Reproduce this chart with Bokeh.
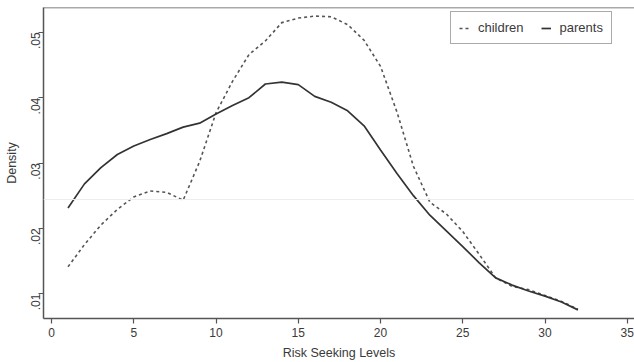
from bokeh.plotting import figure
from bokeh.models import FixedTicker, Span, Range1d
from bokeh.embed import file_html
from bokeh.resources import INLINE
import math

# Data
levels = list(range(1, 33))
parents = [0.0231, 0.0268, 0.0293, 0.0313, 0.0326, 0.0336, 0.0345, 0.0355,
           0.0361, 0.0375, 0.0388, 0.0400, 0.0421, 0.0424, 0.0420, 0.0402,
           0.0393, 0.0380, 0.0357, 0.0320, 0.0284, 0.0250, 0.0220, 0.0196,
           0.0172, 0.0147, 0.0124, 0.0113, 0.0104, 0.0096, 0.0087, 0.0075]
children = [0.0141, 0.0175, 0.0205, 0.0229, 0.0248, 0.0257, 0.0255, 0.0243,
            0.0302, 0.0377, 0.0425, 0.0466, 0.0487, 0.0515, 0.0522, 0.0525,
            0.0524, 0.0512, 0.0488, 0.0448, 0.0378, 0.0295, 0.0240, 0.0222,
            0.0195, 0.0160, 0.0124, 0.0111, 0.0106, 0.0097, 0.0088, 0.0076]
x_ticks = [0, 5, 10, 15, 20, 25, 30, 35]
y_ticks = [0.01, 0.02, 0.03, 0.04, 0.05]
y_tick_labels = [".01", ".02", ".03", ".04", ".05"]
faint_line_level = 0.0244

FONT = "Liberation Sans"
TXT = "#3a3a3a"
AX = "#555555"

p = figure(width=634, height=362, output_backend="svg", toolbar_location=None,
           x_range=Range1d(-0.49, 35.44), y_range=Range1d(0.00618, 0.05382),
           min_border_left=43, min_border_bottom=43, min_border_top=7, min_border_right=0,
           x_axis_label="Risk Seeking Levels", y_axis_label="Density")
p.outline_line_color = None
p.grid.visible = False
p.background_fill_color = "white"
p.border_fill_color = "white"

p.add_layout(Span(location=faint_line_level, dimension="width",
                  line_color="#ededed", line_width=1))
p.add_layout(Span(location=0.05382, dimension="width",
                  line_color=AX, line_width=1.5))

p.line(levels, children, line_color="#555555", line_width=1.6, line_dash="3 3",
       legend_label="children")
p.line(levels, parents, line_color="#333333", line_width=1.7,
       legend_label="parents")

for ax in (p.xaxis[0], p.yaxis[0]):
    ax.axis_line_color = AX
    ax.axis_line_width = 1.5
    ax.major_tick_line_color = AX
    ax.major_tick_line_width = 1.2
    ax.major_tick_out = 5
    ax.major_tick_in = 0
    ax.minor_tick_line_color = None
    ax.major_label_text_font = FONT
    ax.major_label_text_font_size = "12px"
    ax.major_label_text_color = TXT
    ax.axis_label_text_font = FONT
    ax.axis_label_text_font_size = "12.5px"
    ax.axis_label_text_font_style = "normal"
    ax.axis_label_text_color = TXT
    ax.major_label_standoff = 3

p.xaxis.major_label_standoff = 4
p.xaxis.axis_label_standoff = 6
p.yaxis.axis_label_standoff = 5
p.xaxis.ticker = FixedTicker(ticks=x_ticks)
p.yaxis.ticker = FixedTicker(ticks=y_ticks)
p.yaxis.major_label_overrides = {t: l for t, l in zip(y_ticks, y_tick_labels)}
p.yaxis.major_label_orientation = math.pi / 2

lg = p.legend[0]
lg.orientation = "horizontal"
lg.location = (407, 274)
lg.label_text_font = FONT
lg.label_text_font_size = "13px"
lg.label_text_color = TXT
lg.glyph_width = 10
lg.glyph_height = 14
lg.label_height = 14
lg.label_standoff = 9
lg.spacing = 17
lg.padding = 8
lg.margin = 0
lg.border_line_color = AX
lg.border_line_width = 1
lg.background_fill_color = "white"
lg.background_fill_alpha = 1.0

open("out.html", "w").write(file_html(p, INLINE))
